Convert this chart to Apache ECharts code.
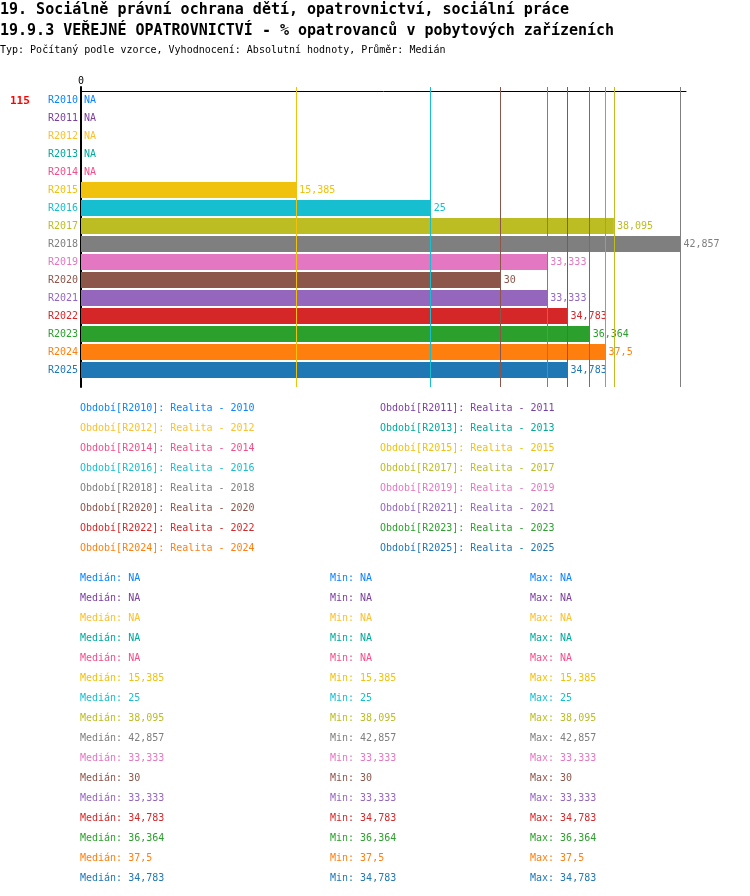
<!DOCTYPE html>
<html>
<head>
<meta charset="utf-8">
<script src="https://cdn.jsdelivr.net/npm/echarts@6/dist/echarts.min.js"></script>
<style>
    html, body {margin: 0; padding: 0; background: #fff;}
    #chart {width: 750px; height: 896px;}
</style>
</head>
<body>
<div id="chart"></div>
<script>
// kategorie (obdobi)
var categories = ['R2010', 'R2011', 'R2012', 'R2013', 'R2014', 'R2015', 'R2016', 'R2017',
    'R2018', 'R2019', 'R2020', 'R2021', 'R2022', 'R2023', 'R2024', 'R2025'];
var years = ['2010', '2011', '2012', '2013', '2014', '2015', '2016', '2017',
    '2018', '2019', '2020', '2021', '2022', '2023', '2024', '2025'];
// hodnoty realita, null = NA
var values = [null, null, null, null, null, 15.385, 25, 38.095,
    42.857, 33.333, 30, 33.333, 34.783, 36.364, 37.5, 34.783];
var medians = [null, null, null, null, null, 15.385, 25, 38.095,
    42.857, 33.333, 30, 33.333, 34.783, 36.364, 37.5, 34.783];
var mins = [null, null, null, null, null, 15.385, 25, 38.095,
    42.857, 33.333, 30, 33.333, 34.783, 36.364, 37.5, 34.783];
var maxs = [null, null, null, null, null, 15.385, 25, 38.095,
    42.857, 33.333, 30, 33.333, 34.783, 36.364, 37.5, 34.783];
var colors = ['#0a84ff', '#7b3f9e', '#fbc02d', '#00a99d', '#f44e8a', '#f0c20e', '#17becf', '#bcbd22',
    '#7f7f7f', '#e377c2', '#8c564b', '#9467bd', '#d62728', '#2ca02c', '#ff7f0e', '#1f77b4'];
var xTicks = [0];
var countLabel = '115';

(function (e, t) {
    "use strict";
    var FONT = '"DejaVu Sans Mono", "Liberation Mono", monospace';
    var X_MAX = 43.25;

    var fmt = function (v) {
        return v === null || v === undefined ? 'NA' : String(v).replace('.', ',');
    };

    // text, x = levy okraj, y = stred radku
    var _text = function (x, y, text, color, size, weight) {
        return {
            type: 'text', x: x, y: y, silent: true,
            style: {
                text: text, fill: color, align: 'left', verticalAlign: 'middle',
                font: (weight || 'normal') + ' ' + (size || 10) + 'px ' + FONT
            }
        };
    };

    var _graphics = function () {
        var g = [];
        g.push(_text(0, 10, '19. Sociálně právní ochrana dětí, opatrovnictví, sociální práce', '#000', 15, 'bold'));
        g.push(_text(0, 31, '19.9.3 VEŘEJNÉ OPATROVNICTVÍ - % opatrovanců v pobytových zařízeních', '#000', 15, 'bold'));
        g.push(_text(0, 50, 'Typ: Počítaný podle vzorce, Vyhodnocení: Absolutní hodnoty, Průměr: Medián', '#000', 10));
        g.push(_text(10, 101, countLabel, '#ff0000', 11, 'bold'));
        // legenda
        for (var i = 0; i < categories.length; i++) {
            var col = i % 2, row = Math.floor(i / 2);
            g.push(_text(col === 0 ? 80 : 380, 408 + row * 20,
                'Období[' + categories[i] + ']: Realita - ' + years[i], colors[i], 10));
        }
        // statistiky
        for (var j = 0; j < categories.length; j++) {
            var y = 578 + j * 20;
            g.push(_text(80, y, 'Medián: ' + fmt(medians[j]), colors[j], 10));
            g.push(_text(330, y, 'Min: ' + fmt(mins[j]), colors[j], 10));
            g.push(_text(530, y, 'Max: ' + fmt(maxs[j]), colors[j], 10));
        }
        return g;
    };

    var _init = function () {
        var myChart = echarts.init(document.getElementById('chart'));
        var barData = [];
        var lineData = [];
        for (var i = 0; i < values.length; i++) {
            barData.push({
                value: values[i] === null ? 0 : values[i],
                itemStyle: {color: colors[i]},
                label: {color: colors[i], formatter: fmt(values[i])}
            });
            if (values[i] !== null) {
                lineData.push({xAxis: values[i], lineStyle: {color: colors[i], width: 1, type: 'solid'}});
            }
        }
        var option = {
            animation: false,
            grid: [
                {left: 81, top: 91, width: 605, height: 288},
                {left: 81, top: 87, width: 605, height: 300}
            ],
            xAxis: [
                {
                    gridIndex: 0, type: 'value', position: 'top', min: 0, max: X_MAX,
                    interval: 100,
                    splitLine: {show: false},
                    axisTick: {show: false},
                    axisLine: {show: true, lineStyle: {color: '#000', width: 1}},
                    axisLabel: {
                        show: true, margin: 5, color: '#000', fontFamily: FONT, fontSize: 10,
                        showMaxLabel: false,
                        formatter: function (v) { return xTicks.indexOf(v) >= 0 ? String(v) : ''; }
                    }
                },
                {gridIndex: 1, type: 'value', min: 0, max: X_MAX, show: false}
            ],
            yAxis: [
                {
                    gridIndex: 0, type: 'category', inverse: true, data: categories,
                    axisLine: {show: false}, axisTick: {show: false}, splitLine: {show: false},
                    axisLabel: {
                        margin: 3, fontFamily: FONT, fontSize: 10,
                        color: function (v, idx) { return colors[idx]; }
                    }
                },
                {
                    gridIndex: 1, type: 'value', min: 0, max: 1,
                    axisLine: {show: true, lineStyle: {color: '#000', width: 2}},
                    axisTick: {show: false}, axisLabel: {show: false}, splitLine: {show: false}
                }
            ],
            series: [
                {
                    type: 'bar', xAxisIndex: 0, yAxisIndex: 0, barWidth: 16, z: 2,
                    label: {show: true, position: 'right', distance: 3, fontFamily: FONT, fontSize: 10},
                    data: barData
                },
                {
                    type: 'line', xAxisIndex: 1, yAxisIndex: 1, data: [], z: 5, silent: true,
                    markLine: {symbol: 'none', silent: true, label: {show: false}, data: lineData}
                }
            ],
            graphic: _graphics()
        };
        myChart.setOption(option);
    };

    _init();
})(document, window);
</script>
</body>
</html>
